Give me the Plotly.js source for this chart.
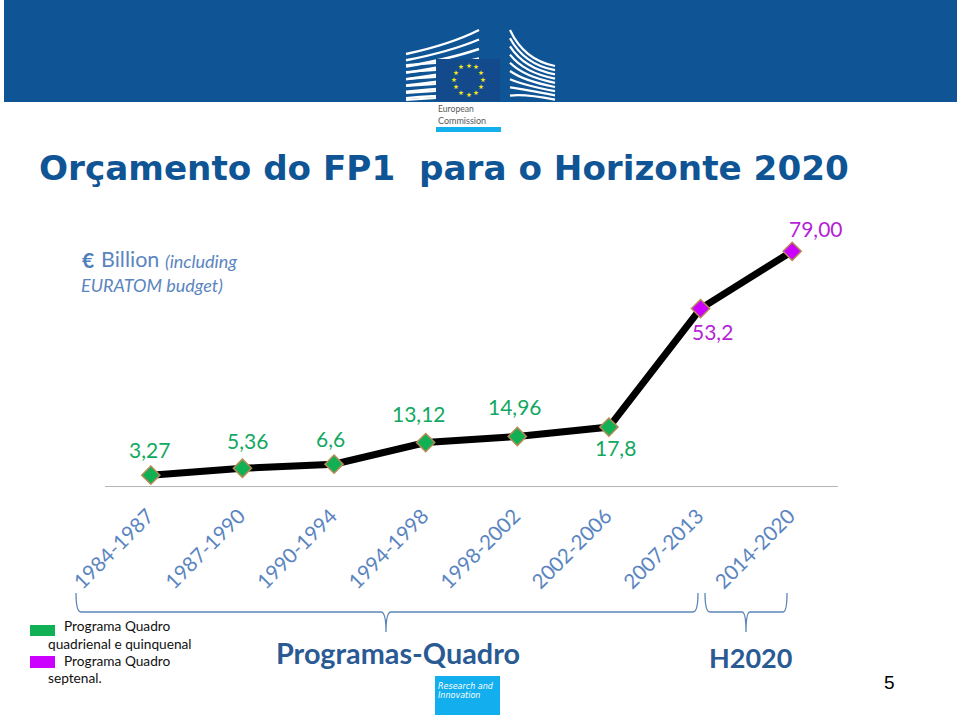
<!DOCTYPE html>
<html><head><meta charset="utf-8">
<script src="https://cdn.plot.ly/plotly-3.0.1.min.js"></script>
<style>html,body{margin:0;padding:0;background:#fff;overflow:hidden}#c{width:960px;height:716px}</style>
</head><body><div id="c"></div>
<script>
const categories = ['1984-1987','1987-1990','1990-1994','1994-1998','1998-2002','2002-2006','2007-2013','2014-2020'];
const plottedValues = [3.27,5.36,6.6,13.12,14.96,17.8,53.6,70.9];
const valueLabels = ['3,27','5,36','6,6','13,12','14,96','17,8','53,2','79,00'];
const pointColors = ['#12b054','#12b054','#12b054','#12b054','#12b054','#12b054','#cc00ff','#cc00ff'];
const labelColors = ['#12a862','#12a862','#12a862','#12a862','#12a862','#12a862','#b51fd6','#b51fd6'];
const labelShiftX = [-1,5,-4,-7,-2,7,12,24];
const labelShiftY = [26,28,26,29,30,-20,-23,23];
const W=960,H=716;
const px=x=>x/W, py=y=>1-y/H;
const rect=(x0,y0,x1,y1,c,extra)=>Object.assign({type:'rect',xref:'paper',yref:'paper',x0:px(x0),x1:px(x1),y0:py(y0),y1:py(y1),fillcolor:c,line:{width:0},layer:'below'},extra||{});
const pth=(pts,color,w,fill)=>({type:'path',xref:'paper',yref:'paper',layer:'below',
  path:pts.map(s=>typeof s==='string'?s:(px(s[0]).toFixed(5)+','+py(s[1]).toFixed(5))).join(' '),
  line:{color:color,width:w},fillcolor:fill||'rgba(0,0,0,0)'});
const txt=(t,x,y,size,color,font,o)=>Object.assign({text:t,xref:'paper',yref:'paper',x:px(x),y:py(y),xanchor:'left',yanchor:'middle',showarrow:false,align:'left',
  font:{size:size,color:color,family:font}},o||{});

const shapes=[];
shapes.push(rect(4,0,957,102,'#0f5495'));
// left building
for(let i=0;i<8;i++){
  const y=54+i*6.3, lift=(8-i)*0.8;
  shapes.push(pth(['M',[406,y],'Q',[450,y-lift-3],[479,30+i*9.5]],'#ffffff',2.4));
}
for(let i=0;i<6;i++){
  shapes.push(pth(['M',[406,62+i*7+3],'L',[436,62+i*7+1]],'#ffffff',2));
}
// right building
for(let i=0;i<9;i++){
  shapes.push(pth(['M',[510,30+i*8.2],'Q',[524,60+i*4.2],[555,66+i*4.2]],'#ffffff',2.2));
}
// flag
shapes.push(rect(436,59,500,101,'#134a8c',{layer:'above'}));
shapes.push(rect(436,127,501,132,'#14b0ee'));
// swatches
shapes.push(rect(30,625,55,636,'#12b054'));
shapes.push(rect(30,656,55,668,'#cc00ff'));
// research box
shapes.push(rect(435,676,500,715,'#12aeee'));
// braces
shapes.push(pth(['M',[76,593],'Q',[76,612],[81,612],'L',[381,612],'Q',[386,612],[386,632],'Q',[386,612],[391,612],'L',[693,612],'Q',[698,612],[698,593]],'#5b85b8',1.3));
shapes.push(pth(['M',[705,593],'Q',[705,612],[710,612],'L',[742,612],'Q',[746,612],[746,632],'Q',[746,612],[750,612],'L',[783,612],'Q',[787,612],[787,593]],'#5b85b8',1.3));

const annotations=[];
// stars
for(let i=0;i<12;i++){
  const a=i*Math.PI/6;
  annotations.push(txt('★',468.5+14.5*Math.sin(a),80-14.5*Math.cos(a),6.5,'#f5e616','DejaVu Sans',{xanchor:'center',borderpad:0}));
}
annotations.push(txt('European',437,109,8.6,'#58595b','Lato',{borderpad:0}));
annotations.push(txt('Commission',437,120.5,9,'#58595b','Lato',{borderpad:0}));
annotations.push(txt('Orçamento do FP1&nbsp;&nbsp;para o Horizonte 2020',37,168,34.2,'#0f5495','DejaVu Sans',{font:{size:34.2,color:'#0f5495',family:'DejaVu Sans',weight:700}}));
annotations.push(txt('€',80,259,21,'#4f7fbb','Lato',{font:{size:21,color:'#4f7fbb',family:'Lato',weight:700}}));
annotations.push(txt('Billion',99,259,21.5,'#5b85c0','Lato'));
annotations.push(txt('<i>(including</i>',163,261,18,'#5b85c0','Lato'));
annotations.push(txt('<i>EURATOM budget)</i>',79,285,18,'#5b85c0','Lato'));
annotations.push(txt('Programa Quadro',62,625.5,13.7,'#111','Lato'));
annotations.push(txt('quadrienal e quinquenal',46,643.5,13.7,'#111','Lato'));
annotations.push(txt('Programa Quadro',62,660.5,13.7,'#111','Lato'));
annotations.push(txt('septenal.',46,677.5,13.7,'#111','Lato'));
annotations.push(txt('Programas-Quadro',274,653,28.8,'#2a5a94','Lato',{font:{size:28.8,color:'#2a5a94',family:'Lato',weight:700}}));
annotations.push(txt('H2020',707,657,27,'#2a5a94','Lato',{font:{size:27,color:'#2a5a94',family:'Lato',weight:700}}));
annotations.push(txt('<i>Research and</i>',436,686,8,'#ffffff','DejaVu Sans'));
annotations.push(txt('<i>Innovation</i>',436,695,8,'#ffffff','DejaVu Sans'));
annotations.push(txt('5',882,682.5,19,'#000','Liberation Sans'));
// value labels
categories.forEach((c,i)=>annotations.push({x:c,y:plottedValues[i],xref:'x',yref:'y',text:valueLabels[i],showarrow:false,
  xshift:labelShiftX[i],yshift:labelShiftY[i],xanchor:'center',yanchor:'middle',font:{size:21,color:labelColors[i],family:'Lato'}}));

const trace={type:'scatter',mode:'lines+markers',x:categories,y:plottedValues,cliponaxis:false,
  line:{color:'#000',width:7},
  marker:{symbol:'diamond',size:14,color:pointColors,line:{color:'#b58a55',width:1.5}},hoverinfo:'skip'};
const layout={width:W,height:H,margin:{l:0,r:0,t:0,b:0,pad:0},paper_bgcolor:'#fff',plot_bgcolor:'rgba(0,0,0,0)',showlegend:false,
  xaxis:{domain:[105/W,838/W],type:'category',range:[-0.5,7.5],automargin:false,showline:true,linecolor:'#b4b4b4',linewidth:1,showgrid:false,zeroline:false,
    ticks:'outside',ticklen:9,tickcolor:'rgba(0,0,0,0)',tickangle:-45,ticklabelshift:-3,tickfont:{size:20.5,color:'#5b85c0',family:'Lato'}},
  yaxis:{domain:[1-486/H,1-190/H],range:[0,296/3.31],automargin:false,visible:false,fixedrange:true},
  shapes:shapes,annotations:annotations};
Plotly.newPlot('c',[trace],layout,{displayModeBar:false,staticPlot:true});
</script></body></html>
